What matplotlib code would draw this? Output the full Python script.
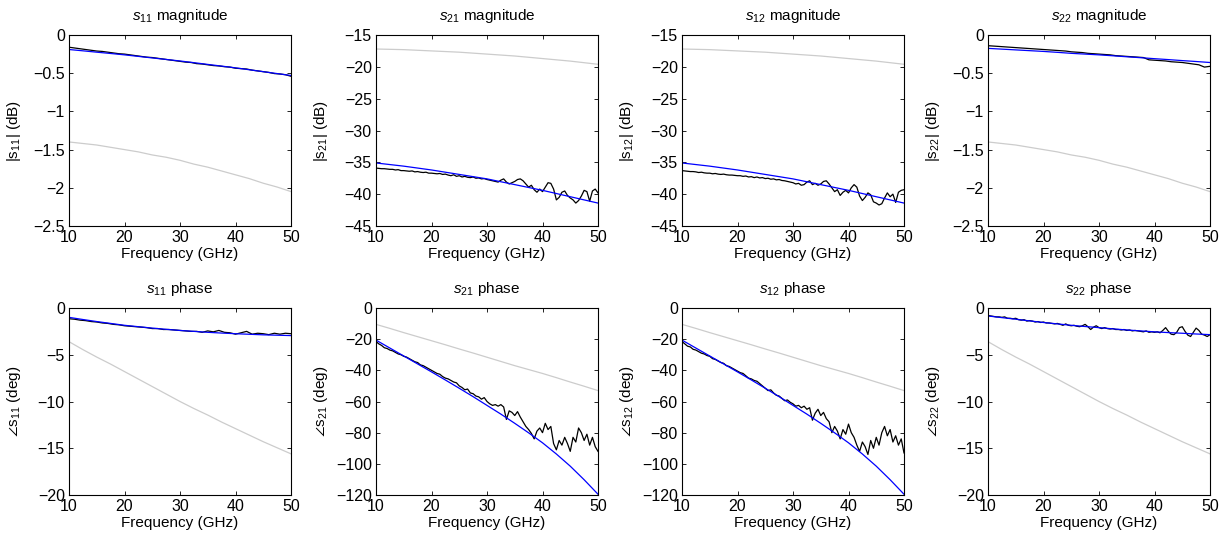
import numpy as np
import matplotlib
matplotlib.use("Agg")
import matplotlib.pyplot as plt
from matplotlib.ticker import FuncFormatter

plt.rcParams['font.family'] = ['Liberation Sans', 'DejaVu Sans']
plt.rcParams['mathtext.fontset'] = 'custom'
plt.rcParams['mathtext.rm'] = 'Liberation Sans'
plt.rcParams['mathtext.it'] = 'Liberation Sans:italic'

# ---------------- data ----------------
f25 = [10 + 2.5 * i for i in range(17)]             # smooth curves
f1 = list(range(10, 51))                            # 1 GHz grid
f05 = [10 + 0.5 * i for i in range(81)]             # 0.5 GHz grid

# s11 magnitude (dB)
s11_mag_gray = [-1.40, -1.42, -1.44, -1.47, -1.50, -1.53, -1.57, -1.60, -1.64,
                -1.69, -1.73, -1.78, -1.83, -1.88, -1.94, -1.99, -2.05]
s11_mag_blue = [-0.19, -0.207, -0.225, -0.242, -0.26, -0.28, -0.30, -0.32, -0.34,
                -0.362, -0.385, -0.407, -0.43, -0.455, -0.48, -0.505, -0.53]
s11_mag_black = [-0.16, -0.17, -0.18, -0.19, -0.20, -0.21, -0.215, -0.225, -0.235, -0.245,
                 -0.25, -0.26, -0.27, -0.28, -0.29, -0.295, -0.305, -0.315, -0.325, -0.335,
                 -0.345, -0.355, -0.36, -0.375, -0.38, -0.39, -0.40, -0.405, -0.415, -0.42,
                 -0.435, -0.44, -0.445, -0.46, -0.47, -0.48, -0.49, -0.505, -0.51, -0.52, -0.54]

# s22 magnitude (dB)
s22_mag_gray = [-1.40, -1.42, -1.44, -1.47, -1.50, -1.53, -1.57, -1.60, -1.64,
                -1.69, -1.73, -1.78, -1.83, -1.88, -1.94, -1.99, -2.05]
s22_mag_blue = [-0.175, -0.185, -0.195, -0.205, -0.215, -0.227, -0.24, -0.25, -0.26,
                -0.272, -0.285, -0.297, -0.31, -0.322, -0.335, -0.347, -0.36]
s22_mag_black = [-0.14, -0.145, -0.15, -0.155, -0.16, -0.165, -0.17, -0.175, -0.18, -0.185,
                 -0.19, -0.195, -0.20, -0.205, -0.21, -0.22, -0.225, -0.23, -0.24, -0.245,
                 -0.25, -0.255, -0.26, -0.27, -0.275, -0.28, -0.285, -0.29, -0.295, -0.325,
                 -0.33, -0.335, -0.34, -0.35, -0.355, -0.36, -0.37, -0.38, -0.39, -0.42, -0.41]

# s21 / s12 magnitude (dB)
s21_mag_gray = [-17.2, -17.25, -17.3, -17.4, -17.5, -17.6, -17.7, -17.85, -18.0,
                -18.15, -18.3, -18.5, -18.7, -18.9, -19.1, -19.35, -19.6]
s21_mag_blue = [-35.1, -35.35, -35.6, -35.9, -36.2, -36.55, -36.9, -37.25, -37.6,
                -38.05, -38.5, -38.95, -39.4, -39.9, -40.4, -40.9, -41.4]
s21_mag_black = [-35.9, -35.95, -36.0, -36.0, -36.05, -36.1, -36.1, -36.2, -36.15, -36.3,
                 -36.3, -36.35, -36.4, -36.35, -36.5, -36.45, -36.55, -36.6, -36.55, -36.7,
                 -36.7, -36.75, -36.8, -36.75, -36.9, -36.85, -37.0, -37.1, -36.95, -37.2,
                 -37.1, -37.3, -37.2, -37.35, -37.4, -37.3, -37.5, -37.45, -37.6, -37.55,
                 -37.7, -37.8, -37.9, -38.0, -38.1, -37.8, -37.6, -38.1, -38.4, -38.2,
                 -38.0, -37.7, -37.6, -37.9, -38.4, -38.9, -38.6, -39.3, -39.7, -39.2,
                 -39.6, -38.9, -38.2, -38.3, -39.2, -40.9, -40.5, -39.7, -39.5, -40.2,
                 -40.6, -40.9, -41.4, -41.0, -40.3, -39.4, -39.6, -41.1, -39.5, -39.2, -39.8]
s12_mag_gray = [-17.2, -17.25, -17.3, -17.4, -17.5, -17.6, -17.7, -17.85, -18.0,
                -18.15, -18.3, -18.5, -18.7, -18.9, -19.1, -19.35, -19.6]
s12_mag_blue = [-35.1, -35.35, -35.6, -35.9, -36.2, -36.55, -36.9, -37.25, -37.6,
                -38.05, -38.5, -38.95, -39.4, -39.9, -40.4, -40.9, -41.4]
s12_mag_black = [-36.3, -36.35, -36.4, -36.45, -36.45, -36.5, -36.6, -36.55, -36.65, -36.7,
                 -36.7, -36.8, -36.75, -36.85, -36.9, -36.85, -36.95, -37.0, -37.0, -37.05,
                 -37.1, -37.1, -37.2, -37.15, -37.3, -37.25, -37.4, -37.3, -37.45, -37.4,
                 -37.55, -37.5, -37.65, -37.6, -37.75, -37.7, -37.85, -37.9, -38.0, -38.1,
                 -38.2, -38.4, -38.3, -38.6, -38.5, -38.1, -37.9, -38.5, -38.3, -38.6,
                 -38.4, -38.0, -37.9, -38.4, -39.0, -39.6, -39.3, -40.2, -39.7, -39.4,
                 -39.8, -39.0, -38.5, -38.9, -40.3, -41.0, -40.5, -39.8, -40.1, -41.2,
                 -41.4, -41.7, -41.5, -40.6, -39.8, -40.4, -40.0, -41.3, -39.7, -39.4, -39.3]

# s11 / s22 phase (deg)
s11_ph_gray = [-3.6, -4.45, -5.25, -6.0, -6.8, -7.6, -8.4, -9.2, -10.0,
               -10.75, -11.45, -12.2, -12.9, -13.6, -14.3, -14.95, -15.6]
s11_ph_blue = [-1.0, -1.23, -1.45, -1.65, -1.85, -2.0, -2.15, -2.28, -2.4,
               -2.5, -2.6, -2.68, -2.75, -2.81, -2.87, -2.91, -2.95]
s11_ph_black = [-1.15, -1.2, -1.3, -1.35, -1.45, -1.5, -1.6, -1.65, -1.75, -1.8,
                -1.9, -1.95, -2.0, -2.05, -2.1, -2.2, -2.2, -2.3, -2.3, -2.35,
                -2.4, -2.45, -2.5, -2.5, -2.6, -2.45, -2.55, -2.4, -2.6, -2.65,
                -2.8, -2.65, -2.5, -2.8, -2.7, -2.75, -2.85, -2.7, -2.8, -2.7, -2.75]
s22_ph_gray = [-3.6, -4.45, -5.25, -6.0, -6.8, -7.6, -8.4, -9.2, -10.0,
               -10.75, -11.45, -12.2, -12.9, -13.6, -14.3, -14.95, -15.6]
s22_ph_blue = [-0.85, -1.03, -1.2, -1.38, -1.55, -1.7, -1.85, -1.98, -2.1,
               -2.23, -2.35, -2.45, -2.55, -2.63, -2.7, -2.78, -2.85]
s22_ph_black = [-0.8, -0.85, -0.9, -0.95, -0.95, -1.0, -0.95, -1.1, -1.1, -1.15,
                -1.1, -1.25, -1.3, -1.25, -1.4, -1.35, -1.4, -1.5, -1.45, -1.55,
                -1.5, -1.6, -1.6, -1.65, -1.7, -1.65, -1.75, -1.85, -1.7, -1.85,
                -1.9, -1.85, -1.95, -2.0, -1.9, -1.75, -2.0, -2.3, -2.05, -1.9,
                -2.1, -2.2, -2.1, -2.2, -2.25, -2.2, -2.3, -2.3, -2.35, -2.3,
                -2.4, -2.35, -2.45, -2.4, -2.45, -2.5, -2.55, -2.45, -2.6, -2.55,
                -2.6, -2.55, -2.65, -2.4, -2.1, -2.5, -2.8, -2.85, -2.6, -2.1,
                -2.0, -2.5, -2.9, -3.05, -2.6, -2.15, -2.4, -2.8, -2.9, -3.05, -2.85]

# s21 / s12 phase (deg)
s21_ph_gray = [-10.5, -13.1, -15.8, -18.4, -21.0, -23.6, -26.3, -28.9, -31.6,
               -34.3, -37.0, -39.5, -42.0, -44.7, -47.5, -50.2, -53.0]
s21_ph_blue = [-20.6, -25.7, -30.8, -35.9, -41.0, -46.2, -51.5, -56.9, -62.5,
               -68.1, -74.0, -80.1, -86.5, -93.7, -101.5, -110.2, -119.5]
s21_ph_black = [-21.5, -23.0, -24.0, -25.5, -26.0, -27.0, -27.5, -28.5, -29.5, -30.0,
                -31.0, -31.5, -32.5, -33.5, -34.5, -35.0, -36.5, -37.0, -38.0, -39.0,
                -40.0, -41.0, -42.0, -42.5, -44.0, -45.0, -45.5, -46.5, -47.5, -48.0,
                -50.0, -51.0, -52.5, -52.0, -54.5, -55.0, -56.5, -57.0, -58.5, -57.5,
                -60.0, -61.5, -62.5, -62.0, -63.0, -62.0, -63.5, -71.5, -66.0, -67.0,
                -69.0, -66.5, -70.0, -73.0, -76.0, -78.0, -80.5, -84.0, -79.0, -77.0,
                -80.0, -74.0, -78.0, -76.0, -87.0, -91.0, -85.0, -88.0, -83.0, -87.0,
                -92.0, -83.0, -86.0, -77.0, -80.0, -85.0, -81.0, -88.0, -83.0, -89.0, -92.0]
s12_ph_gray = [-10.5, -13.1, -15.8, -18.4, -21.0, -23.6, -26.3, -28.9, -31.6,
               -34.3, -37.0, -39.5, -42.0, -44.7, -47.5, -50.2, -53.0]
s12_ph_blue = [-20.6, -25.7, -30.8, -35.9, -41.0, -46.2, -51.5, -56.9, -62.5,
               -68.1, -74.0, -80.1, -86.5, -93.7, -101.5, -110.2, -119.5]
s12_ph_black = [-21.5, -23.0, -24.5, -25.0, -26.5, -27.0, -28.0, -29.0, -29.5, -30.5,
                -31.0, -32.5, -33.0, -34.0, -35.0, -35.5, -37.0, -37.5, -38.5, -39.5,
                -40.5, -41.5, -42.0, -43.5, -45.0, -45.5, -46.5, -47.0, -48.5, -50.0,
                -51.5, -53.0, -52.5, -54.5, -56.0, -56.5, -58.0, -59.5, -59.0, -60.5,
                -61.5, -63.0, -62.5, -64.0, -63.0, -65.0, -64.0, -72.0, -67.5, -65.0,
                -69.0, -67.0, -71.0, -73.0, -80.0, -76.0, -79.0, -84.0, -78.0, -81.0,
                -74.5, -80.0, -83.0, -88.0, -92.0, -86.0, -89.0, -94.0, -85.0, -90.0,
                -83.0, -88.0, -80.0, -76.0, -82.0, -78.0, -86.0, -82.0, -88.0, -84.0, -93.0]

# ---------------- figure ----------------
W, H = 1228, 540
fig = plt.figure(figsize=(W / 100, H / 100), dpi=100)

col_left = [69, 376, 682, 988]
ax_w = 222
rows = [(35, 226), (308, 495)]

mag_ticks_small = [-2.5, -2, -1.5, -1, -0.5, 0]
mag_ticks_big = [-45, -40, -35, -30, -25, -20, -15]
ph_ticks_small = [-20, -15, -10, -5, 0]
ph_ticks_big = [-120, -100, -80, -60, -40, -20, 0]

panels = [
    (0, 0, r"$s_{11}$ magnitude", r"|s$_{11}$| (dB)", (-2.5, 0), mag_ticks_small, f1, s11_mag_black, s11_mag_gray, s11_mag_blue),
    (0, 1, r"$s_{21}$ magnitude", r"|s$_{21}$| (dB)", (-45, -15), mag_ticks_big, f05, s21_mag_black, s21_mag_gray, s21_mag_blue),
    (0, 2, r"$s_{12}$ magnitude", r"|s$_{12}$| (dB)", (-45, -15), mag_ticks_big, f05, s12_mag_black, s12_mag_gray, s12_mag_blue),
    (0, 3, r"$s_{22}$ magnitude", r"|s$_{22}$| (dB)", (-2.5, 0), mag_ticks_small, f1, s22_mag_black, s22_mag_gray, s22_mag_blue),
    (1, 0, r"$s_{11}$ phase", r"$\angle$s$_{11}$ (deg)", (-20, 0), ph_ticks_small, f1, s11_ph_black, s11_ph_gray, s11_ph_blue),
    (1, 1, r"$s_{21}$ phase", r"$\angle$s$_{21}$ (deg)", (-120, 0), ph_ticks_big, f05, s21_ph_black, s21_ph_gray, s21_ph_blue),
    (1, 2, r"$s_{12}$ phase", r"$\angle$s$_{12}$ (deg)", (-120, 0), ph_ticks_big, f05, s12_ph_black, s12_ph_gray, s12_ph_blue),
    (1, 3, r"$s_{22}$ phase", r"$\angle$s$_{22}$ (deg)", (-20, 0), ph_ticks_small, f05, s22_ph_black, s22_ph_gray, s22_ph_blue),
]

fmt = FuncFormatter(lambda v, p: ("%g" % v).replace("-", "\u2212"))

for r, c, title, ylabel, ylim, yticks, fx, black, gray, blue in panels:
    top, bot = rows[r]
    ax = fig.add_axes([col_left[c] / W, 1 - bot / H, ax_w / W, (bot - top) / H])
    ax.plot(f25, gray, color=(0.8, 0.8, 0.8), lw=0.9)
    ax.plot(fx, black, color='black', lw=0.9)
    ax.plot(f25, blue, color='blue', lw=0.9)
    ax.set_xlim(10, 50)
    ax.set_ylim(*ylim)
    ax.set_xticks([10, 20, 30, 40, 50])
    ax.set_yticks(yticks)
    ax.yaxis.set_major_formatter(fmt)
    ax.tick_params(direction='in', top=True, right=True, labelsize=11.5,
                   length=3, width=0.6)
    ax.tick_params(axis='x', pad=3)
    ax.tick_params(axis='y', pad=3)
    for s in ax.spines.values():
        s.set_linewidth(0.8)
    ax.set_title(title, fontsize=11, pad=11)
    ax.set_xlabel("Frequency (GHz)", fontsize=11, labelpad=1)
    ax.set_ylabel(ylabel, fontsize=11)
    ax.yaxis.set_label_coords(-46 / ax_w, 0.5)

fig.savefig("out.png", dpi=100)
